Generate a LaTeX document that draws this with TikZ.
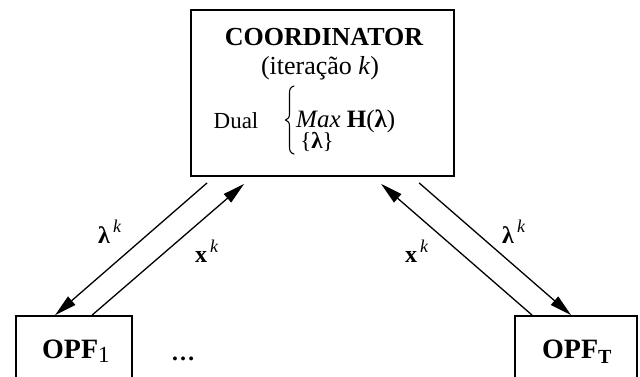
\documentclass[tikz,border=0pt]{standalone}
\usepackage{fontspec}
\setmainfont{Liberation Serif}
\usetikzlibrary{arrows.meta,calc}
\begin{document}
\begin{tikzpicture}[x=1pt,y=-1pt,
  box/.style={draw,line width=1.8pt,inner sep=0pt},
  arr/.style={line width=1.3pt,-{Triangle[length=22pt,width=11pt]}},
  big/.style={font=\fontsize{26}{30}\selectfont,inner sep=0pt},
  lbl/.style={font=\fontsize{24}{28}\selectfont,inner sep=0pt,anchor=base west},
  bracestyle/.style={line width=1.1pt,line cap=round},
  ]
\useasboundingbox (0,0) rectangle (640,376);
\clip (0,0) rectangle (640,376);
% boxes
\node[box,minimum width=263pt,minimum height=166pt] (coord) at (322.5,93) {};
\node[box,minimum width=116pt,minimum height=80pt] (opf1) at (74,356) {};
\node[box,minimum width=122pt,minimum height=80pt] (opft) at (576,356) {};
% coordinator texts
\node[big,font=\fontsize{26}{30}\selectfont\bfseries,anchor=base] (title) at (324,45) {COORDINATOR};
\node[big,anchor=base] (iter) at (320,74) {(iteração \textit{k})};
\node[font=\fontsize{23}{27}\selectfont,inner sep=0pt,anchor=base] (dual) at (236,128) {Dual};
\draw[bracestyle] (294,86) .. controls (290.5,87) and (289.5,89) .. (289.5,93) -- (289.5,114)
  .. controls (289.5,117.5) and (288,119) .. (285.5,120)
  .. controls (288,121) and (289.5,122.5) .. (289.5,126) -- (289.5,147)
  .. controls (289.5,151) and (290.5,153) .. (294,154);
\node[font=\fontsize{25}{30}\selectfont,inner sep=0pt,anchor=base west] (max) at (296,127) {\textit{Max} \textbf{H}(\textbf{λ})};
\node[font=\fontsize{23}{26}\selectfont,inner sep=0pt] (under) at (317,142) {\{\textbf{λ}\}};
% OPF texts
\node[font=\fontsize{28}{32}\selectfont,inner sep=0pt,anchor=base west] (t1) at (42,358)
  {\textbf{OPF}\raisebox{-4pt}{\fontsize{23}{26}\selectfont 1}};
\node[font=\fontsize{28}{32}\selectfont,inner sep=0pt,anchor=base west] (tt) at (542,358)
  {\textbf{OPF}\raisebox{-5pt}{\fontsize{20}{24}\selectfont\bfseries T}};
\node[font=\fontsize{24}{28}\selectfont\bfseries,inner sep=0pt,anchor=base] (dots) at (183,360) {…};
% connector end points
\coordinate (c1) at ($(coord.south west)+(17,6)$);
\coordinate (c2) at ($(coord.south west)+(54,7)$);
\coordinate (c3) at ($(coord.south west)+(191,7)$);
\coordinate (c4) at ($(coord.south west)+(229,6)$);
\coordinate (p1) at ($(opf1.north west)+(40,0)$);
\coordinate (p2) at ($(opf1.north west)+(77,0)$);
\coordinate (q1) at ($(opft.north west)+(18,0)$);
\coordinate (q2) at ($(opft.north west)+(57,0)$);
\draw[arr] (c1) -- (p1);
\draw[arr] (p2) -- (c2);
\draw[arr] (q1) -- (c3);
\draw[arr] (c4) -- (q2);
% labels
\node[lbl] (l1) at (98,243) {\textbf{λ}\raisebox{11pt}{\fontsize{18}{20}\selectfont\,\textit{k}}};
\node[lbl] (x1) at (195,262) {\textbf{x}\raisebox{10pt}{\fontsize{18}{20}\selectfont\,\textit{k}}};
\node[lbl] (x2) at (405,262) {\textbf{x}\raisebox{10pt}{\fontsize{18}{20}\selectfont\,\textit{k}}};
\node[lbl] (l2) at (502,243) {\textbf{λ}\raisebox{11pt}{\fontsize{18}{20}\selectfont\,\textit{k}}};
\end{tikzpicture}
\end{document}
